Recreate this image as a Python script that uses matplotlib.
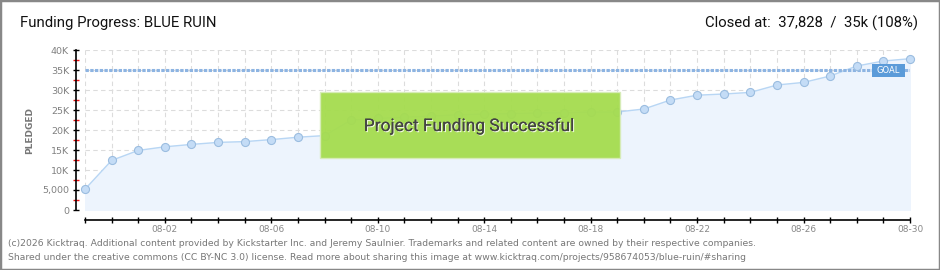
import numpy as np
import matplotlib
matplotlib.use("Agg")
import matplotlib.pyplot as plt
from matplotlib.patches import Rectangle
import matplotlib.patheffects as pe

# ---- data ----
days = ["07-30", "07-31"] + [f"08-{d:02d}" for d in range(1, 31)]
pledged = [5200, 12400, 14900, 15800, 16400, 16900, 17100, 17600,
           18200, 18600, 22500, 22900, 23200, 23500, 23800, 24000,
           24100, 24250, 24300, 24500, 24500, 25250, 27500, 28700,
           29000, 29400, 31250, 31900, 33500, 36000, 37250, 37828]
goal = 35000
label_days = ["08-02", "08-06", "08-10", "08-14", "08-18", "08-22", "08-26", "08-30"]
ytick_vals = [0, 5000, 10000, 15000, 20000, 25000, 30000, 35000, 40000]
ytick_labels = ["0", "5,000", "10K", "15K", "20K", "25K", "30K", "35K", "40K"]

W, H = 940, 270
fig = plt.figure(figsize=(W / 100, H / 100), dpi=100)
fig.patch.set_facecolor("white")

def fx(px):
    return px / W

def fy(py):
    return 1 - py / H

ax = fig.add_axes([fx(85), fy(210), (910 - 85) / W, 160 / H])
ax.set_facecolor("none")

x = np.arange(len(pledged))
ax.set_xlim(0, len(pledged) - 1)
ax.set_ylim(0, 40000)

# grid
ax.set_xticks(x)
ax.set_yticks(ytick_vals)
ax.grid(True, color="#dcdcdc", linestyle=(0, (4, 3)), linewidth=0.8)
ax.set_axisbelow(True)

# area + line + markers
ax.fill_between(x, pledged, 0, color="#edf4fd", zorder=1)
ax.plot(x, pledged, color="#b8d6f4", lw=1, zorder=2)
ax.plot(x, pledged, "o", ms=5.8, mfc="#c4dcf6", mec="#9bbde0", mew=0.8,
        zorder=4, clip_on=False)

# goal line
ax.hlines(goal, x[0], x[-1], color="#8db4e2", lw=2.2,
          linestyles=(0, (1.1, 0.45)), zorder=3)

# spines
for s in ["top", "right"]:
    ax.spines[s].set_visible(False)
ax.spines["left"].set_position(("outward", 6.5))
ax.spines["bottom"].set_position(("outward", 7.2))
ax.spines["left"].set_bounds(0, 40000)
ax.spines["bottom"].set_bounds(x[0], x[-1])
ax.spines["left"].set_linewidth(1.2)
ax.spines["bottom"].set_linewidth(1.2)

ax.set_xticklabels([d if d in label_days else "" for d in days])
ax.set_yticklabels(ytick_labels)
ax.tick_params(axis="x", direction="inout", length=5, width=1, pad=1,
               labelsize=6.5, labelcolor="#888888")
ax.tick_params(axis="y", direction="inout", length=4, width=1, pad=3,
               labelsize=6.8, labelcolor="#808080")
ax.set_yticks(np.arange(2500, 40000, 5000), minor=True)
ax.tick_params(axis="y", which="minor", direction="inout", length=4,
               width=1, color="#ee1111")
ax.set_ylabel("PLEDGED", fontsize=6.5, color="#777777", labelpad=6,
              fontweight="bold")

# GOAL tag
fig.patches.append(Rectangle((fx(872), fy(77)), 33 / W, 13 / H,
                             transform=fig.transFigure, facecolor="#5b9bd9",
                             edgecolor="none", zorder=5))
fig.text(fx(888), fy(70.5), "GOAL", color="white", fontsize=6,
         ha="center", va="center", zorder=6)

# success banner
fig.patches.append(Rectangle((fx(320), fy(158)), 300 / W, 66 / H,
                             transform=fig.transFigure, facecolor="#a5dc4e",
                             edgecolor="#d7ecb8", lw=1, alpha=0.95, zorder=5))
fig.text(fx(469), fy(126), "Project Funding Successful", fontsize=12.5,
         family="Roboto", color="#444444", ha="center",
         va="center", zorder=6,
         path_effects=[pe.withSimplePatchShadow(offset=(0.8, -0.8),
                                                shadow_rgbFace="white",
                                                alpha=0.8), pe.Normal()])

# header
fig.text(fx(20), fy(23), "Funding Progress: BLUE RUIN", fontsize=10.7,
         family="Roboto", color="#111111", va="center")
fig.text(fx(918), fy(23), "Closed at:  37,828  /  35k (108%)", fontsize=10.7,
         family="Roboto", color="#111111", va="center", ha="right")

# footer
fig.text(fx(8), fy(243),
         "(c)2026 Kicktraq. Additional content provided by Kickstarter Inc. and Jeremy Saulnier. "
         "Trademarks and related content are owned by their respective companies.",
         fontsize=6.7, color="#777777", va="center")
fig.text(fx(8), fy(257),
         "Shared under the creative commons (CC BY-NC 3.0) license. Read more about sharing this image at "
         "www.kicktraq.com/projects/958674053/blue-ruin/#sharing",
         fontsize=6.7, color="#777777", va="center")

# outer border
fig.patches.append(Rectangle((0, 0), 1, 1, transform=fig.transFigure,
                             fill=False, edgecolor="#888888", lw=2.5, zorder=10))

fig.savefig("out.png", dpi=100)
